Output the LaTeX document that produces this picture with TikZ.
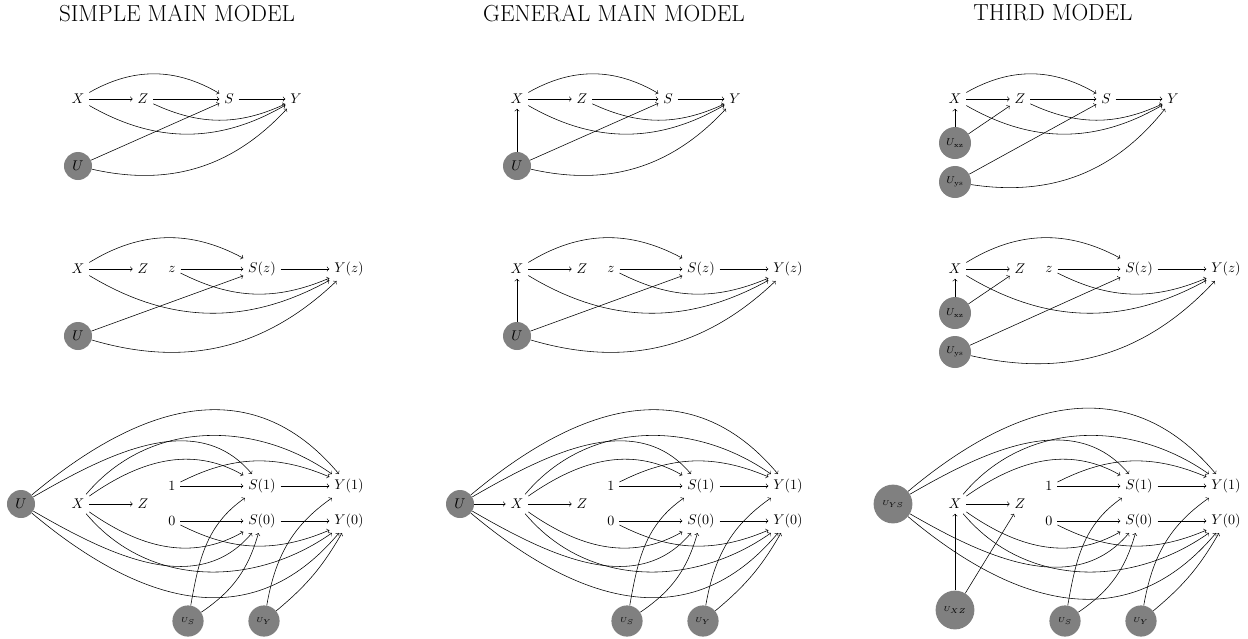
\RequirePackage{fix-cm}
\documentclass[tikz,border=0pt]{standalone}
\begin{document}
\begin{tikzpicture}[x=0.025cm, y=0.025cm,
lat/.style={circle, fill=gray, inner sep=0pt, minimum size=0.7cm},
latm/.style={circle, fill=gray, inner sep=0pt, minimum size=0.8cm, font=\scriptsize},
lats/.style={circle, fill=gray, inner sep=0pt, minimum size=0.78cm, font=\tiny},
latl/.style={circle, fill=gray, inner sep=0pt, minimum size=0.97cm, font=\tiny},
ttl/.style={font=\fontsize{16.5}{20}\selectfont}]

\useasboundingbox (0,0) rectangle (1248,-638);

\node[ttl] (t1) at (177,-13) {SIMPLE MAIN MODEL};
\node[ttl] (t2) at (614,-13) {GENERAL MAIN MODEL};
\node[ttl] (t3) at (1053,-13) {THIRD MODEL};

\foreach \p/\ox in {1/78,2/517,3/955}{
\begin{scope}[shift={(\ox,0)}]
\node (X) at (0,-99) {$X$};
\node (Z) at (65,-99) {$Z$};
\node (S) at (151,-99) {$S$};
\node (Y) at (218,-99) {$Y$};
\ifnum\p=3
\node[latm] (Uxz) at (0,-143) {$U_{\mathrm{xz}}$};
\node[latm] (U) at (0,-182) {$U_{\mathrm{ys}}$};
\draw[->] (Uxz) -- (X);
\draw[->] (Uxz) -- (Z);
\else
\node[lat] (U) at (0,-166) {$U$};
\fi
\ifnum\p=2 \draw[->] (U) -- (X); \fi
\draw[->] (X) -- (Z);
\draw[->] (Z) -- (S);
\draw[->] (S) -- (Y);
\draw[->] (X) to[bend left=30] (S);
\draw[->] (X) to[bend right=30] (Y);
\draw[->] (Z) to[bend right=25] (Y);
\draw[->] (U) -- (S);
\draw[->] (U) to[bend right=30] (Y);
\end{scope}
}

\foreach \p/\ox in {1/78,2/517,3/955}{
\begin{scope}[shift={(\ox,0)}]
\node (X) at (0,-269) {$X$};
\node (Z) at (65,-269) {$Z$};
\node (z) at (94,-269) {$z$};
\node (Sz) at (184,-269) {$S(z)$};
\node (Yz) at (271,-269) {$Y(z)$};
\ifnum\p=3
\node[latm] (Uxz) at (0,-313) {$U_{\mathrm{xz}}$};
\node[latm] (U) at (0,-352) {$U_{\mathrm{ys}}$};
\draw[->] (Uxz) -- (X);
\draw[->] (Uxz) -- (Z);
\else
\node[lat] (U) at (0,-336) {$U$};
\fi
\ifnum\p=2 \draw[->] (U) -- (X); \fi
\draw[->] (X) -- (Z);
\draw[->] (z) -- (Sz);
\draw[->] (Sz) -- (Yz);
\draw[->] (X) to[bend left=30] (Sz);
\draw[->] (X) to[bend right=30] (Yz);
\draw[->] (z) to[bend right=25] (Yz);
\draw[->] (U) -- (Sz);
\draw[->] (U) to[bend right=30] (Yz);
\end{scope}
}

\foreach \p/\ox in {1/78,2/517,3/955}{
\begin{scope}[shift={(\ox,0)}]
\node (X) at (0,-504) {$X$};
\node (Z) at (65,-504) {$Z$};
\node (one) at (94,-486) {$1$};
\node (zero) at (94,-521) {$0$};
\node (S1) at (184,-486) {$S(1)$};
\node (S0) at (184,-521) {$S(0)$};
\node (Y1) at (271,-486) {$Y(1)$};
\node (Y0) at (271,-521) {$Y(0)$};
\node[lats] (US) at (110,-621) {$U_S$};
\node[lats] (UY) at (186,-621) {$U_Y$};
\ifnum\p=3
\node[latl] (U) at (-62,-504) {$U_{YS}$};
\node[latl] (UXZ) at (0,-610) {$U_{XZ}$};
\draw[->] (UXZ) -- (X);
\draw[->] (UXZ) -- (Z);
\else
\node[lat] (U) at (-57,-504) {$U$};
\fi
\ifnum\p=2 \draw[->] (U) -- (X); \fi
\draw[->] (X) -- (Z);
\draw[->] (one) -- (S1);
\draw[->] (S1) -- (Y1);
\draw[->] (zero) -- (S0);
\draw[->] (S0) -- (Y0);
\draw[->] (one) to[bend left=25] (Y1);
\draw[->] (zero) to[bend right=25] (Y0);
\draw[->] (U) to[out=40, in=130, looseness=1.15] (Y1);
\draw[->] (U) to[out=30, in=130] (S1);
\draw[->] (X) to[out=50, in=145] (Y1);
\draw[->] (X) to[out=35, in=150] (S1);
\draw[->] (U) to[out=-40, in=-130, looseness=1.15] (Y0);
\draw[->] (U) to[out=-30, in=-130] (S0);
\draw[->] (X) to[out=-50, in=-145] (Y0);
\draw[->] (X) to[out=-35, in=-150] (S0);
\draw[->] (US) to[out=80, in=215] (S1);
\draw[->] (US) to[bend right=20] (S0);
\draw[->] (UY) to[out=80, in=215] (Y1);
\draw[->] (UY) to[bend right=10] (Y0);
\end{scope}
}
\end{tikzpicture}
\end{document}
